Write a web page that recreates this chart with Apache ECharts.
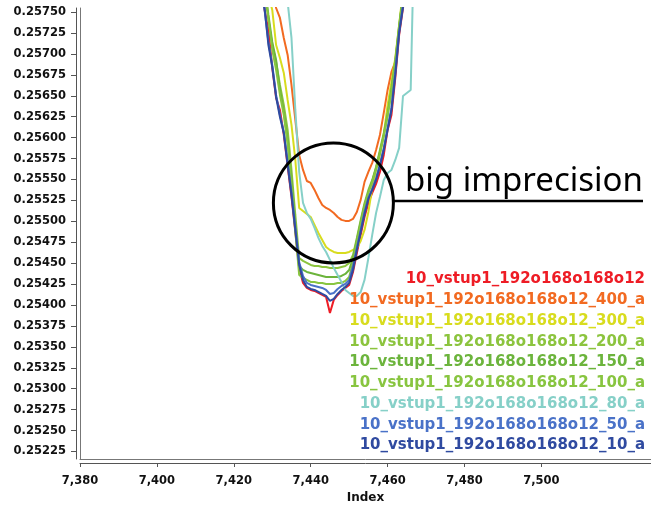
<!DOCTYPE html>
<html>
<head>
<meta charset="utf-8">
<script src="https://cdn.jsdelivr.net/npm/echarts@6/dist/echarts.min.js"></script>
<style>
html,body{margin:0;padding:0;background:#fff;}
#chart{width:651px;height:509px;}
</style>
</head>
<body>
<div id="chart"></div>
<script>
// ---- data ----
const index = [7427,7428,7429,7430,7431,7432,7433,7434,7435,7436,7437,7438,7439,7440,7441,7442,7443,7444,7445,7446,7447,7448,7449,7450,7451,7452,7453,7454,7455,7456,7457,7458,7459,7460,7461,7462,7463,7464,7465,7466,7467];

const seriesNames = [
  '10_vstup1_192o168o168o12',
  '10_vstup1_192o168o168o12_400_a',
  '10_vstup1_192o168o168o12_300_a',
  '10_vstup1_192o168o168o12_200_a',
  '10_vstup1_192o168o168o12_150_a',
  '10_vstup1_192o168o168o12_100_a',
  '10_vstup1_192o168o168o12_80_a',
  '10_vstup1_192o168o168o12_50_a',
  '10_vstup1_192o168o168o12_10_a'
];

const vBase = [0.257944,0.257526,0.257287,0.256833,0.256474,0.256331,0.256032,0.255662,0.255291,0.254873,0.254443,0.254264,0.254204,0.254180,0.254168,0.254144,0.254120,0.254097,0.253905,0.254061,0.254120,0.254168,0.254204,0.254240,0.254395,0.254622,0.254838,0.255052,0.255220,0.255339,0.255447,0.255590,0.255793,0.256092,0.256271,0.256713,0.257227,0.257549,0.257884,0.258242,0.258601];
const v400 = [0.258720,0.258481,0.258183,0.257860,0.257549,0.257430,0.257191,0.256988,0.256629,0.256211,0.255793,0.255614,0.255482,0.255459,0.255375,0.255279,0.255196,0.255160,0.255136,0.255100,0.255052,0.255017,0.255005,0.255005,0.255029,0.255112,0.255256,0.255471,0.255590,0.255698,0.255853,0.256032,0.256295,0.256570,0.256785,0.256904,0.257287,0.257705,0.258063,0.258362,0.258720];
const v300 = [0.258123,0.257908,0.257705,0.257526,0.257107,0.256952,0.256773,0.256450,0.256152,0.255733,0.255160,0.255124,0.255088,0.255052,0.254957,0.254861,0.254778,0.254694,0.254658,0.254634,0.254622,0.254622,0.254622,0.254634,0.254658,0.254682,0.254766,0.254897,0.255112,0.255399,0.255614,0.255793,0.256032,0.256391,0.256665,0.256952,0.257346,0.257764,0.258123,0.258481,0.258840];
const v200 = [0.258063,0.257764,0.257406,0.257107,0.256904,0.256629,0.256391,0.256092,0.255614,0.255076,0.254562,0.254527,0.254503,0.254479,0.254467,0.254467,0.254455,0.254455,0.254443,0.254443,0.254443,0.254455,0.254467,0.254503,0.254598,0.254802,0.255017,0.255220,0.255375,0.255494,0.255650,0.255853,0.256056,0.256295,0.256594,0.256928,0.257346,0.257705,0.258063,0.258422,0.258780];
const v150 = [0.258123,0.257824,0.257466,0.257143,0.256928,0.256570,0.256307,0.255972,0.255494,0.254957,0.254467,0.254419,0.254395,0.254383,0.254371,0.254359,0.254347,0.254335,0.254335,0.254335,0.254335,0.254347,0.254371,0.254419,0.254562,0.254778,0.254993,0.255196,0.255351,0.255482,0.255638,0.255829,0.256032,0.256271,0.256570,0.256904,0.257322,0.257705,0.258063,0.258422,0.258780];
const v100 = [0.258099,0.257788,0.257430,0.257048,0.256809,0.256510,0.256271,0.255913,0.255435,0.254873,0.254359,0.254324,0.254300,0.254276,0.254276,0.254264,0.254264,0.254252,0.254252,0.254252,0.254264,0.254264,0.254288,0.254335,0.254515,0.254754,0.254969,0.255184,0.255339,0.255471,0.255626,0.255817,0.256020,0.256259,0.256546,0.256880,0.257299,0.257705,0.258063,0.258422,0.258780];
const v80 = [0.259437,0.259198,0.258959,0.258720,0.258481,0.258242,0.257944,0.257621,0.257191,0.256331,0.255590,0.255220,0.255100,0.255029,0.254921,0.254802,0.254706,0.254634,0.254539,0.254443,0.254359,0.254276,0.254180,0.254144,0.254109,0.254109,0.254156,0.254300,0.254562,0.254838,0.255100,0.255291,0.255494,0.255578,0.255614,0.255733,0.255877,0.256498,0.256534,0.256570,0.258601];
const v50 = [0.257824,0.257526,0.257143,0.256868,0.256510,0.256271,0.256068,0.255709,0.255351,0.254921,0.254515,0.254347,0.254264,0.254240,0.254228,0.254216,0.254204,0.254180,0.254132,0.254144,0.254192,0.254228,0.254252,0.254300,0.254467,0.254682,0.254897,0.255112,0.255279,0.255387,0.255518,0.255686,0.255877,0.256116,0.256355,0.256785,0.257263,0.257585,0.257884,0.258242,0.258601];
const v10 = [0.257764,0.257549,0.257107,0.256845,0.256486,0.256247,0.256056,0.255674,0.255315,0.254897,0.254479,0.254300,0.254216,0.254192,0.254180,0.254156,0.254132,0.254109,0.254049,0.254073,0.254132,0.254180,0.254216,0.254264,0.254419,0.254658,0.254873,0.255088,0.255267,0.255375,0.255494,0.255662,0.255853,0.256092,0.256331,0.256749,0.257251,0.257561,0.257884,0.258242,0.258601];

const xTicks = [7380,7400,7420,7440,7460,7480,7500];
const yTicks = [0.25225,0.25250,0.25275,0.25300,0.25325,0.25350,0.25375,0.25400,0.25425,0.25450,0.25475,0.25500,0.25525,0.25550,0.25575,0.25600,0.25625,0.25650,0.25675,0.25700,0.25725,0.25750];

const annotationText = 'big imprecision';
const annotationCenter = [7445.9, 0.25522];

// ---- styles ----
const colors = ['#ee1c25','#f26a21','#d8dc1e','#8cc43e','#6cb43c','#88c540','#86d0c8','#4a72c8','#2f4aa0'];
const allValues = [vBase, v400, v300, v200, v150, v100, v80, v50, v10];

const chart = echarts.init(document.getElementById('chart'), null, {renderer: 'canvas'});

const xMin = 7380, xMax = 7528.5, yMin = 0.25216, yMax = 0.257549;
const labelFont = {fontFamily: 'DejaVu Sans', fontWeight: 'bold', fontSize: 11.5, color: '#111'};

const option = {
  animation: false,
  backgroundColor: '#fff',
  grid: {left: 80, right: 0, top: 8, bottom: 50, containLabel: false},
  xAxis: [{
    type: 'value', min: xMin, max: xMax,
    offset: 4,
    axisLine: {show: true, lineStyle: {color: '#555', width: 1}},
    axisTick: {show: true, length: 4, lineStyle: {color: '#555'}, customValues: xTicks},
    axisLabel: Object.assign({margin: 12, customValues: xTicks,
      formatter: v => Number(v).toLocaleString('en-US')}, labelFont),
    splitLine: {show: false},
    name: 'Index', nameLocation: 'middle', nameGap: 29,
    nameTextStyle: {fontFamily: 'DejaVu Sans', fontWeight: 'bold', fontSize: 12, color: '#111'}
  }, {
    type: 'value', min: xMin, max: xMax, position: 'bottom', offset: 0,
    axisLine: {show: true, lineStyle: {color: '#777', width: 1}},
    axisTick: {show: false}, axisLabel: {show: false}, splitLine: {show: false}
  }],
  yAxis: [{
    type: 'value', min: yMin, max: yMax,
    offset: 4,
    axisLine: {show: true, lineStyle: {color: '#555', width: 1}},
    axisTick: {show: true, length: 5, lineStyle: {color: '#555'}, customValues: yTicks},
    axisLabel: Object.assign({margin: 10, customValues: yTicks,
      formatter: v => Number(v).toFixed(5)}, labelFont),
    splitLine: {show: false}
  }, {
    type: 'value', min: yMin, max: yMax, position: 'left', offset: 0,
    axisLine: {show: true, lineStyle: {color: '#777', width: 1}},
    axisTick: {show: false}, axisLabel: {show: false}, splitLine: {show: false}
  }],
  legend: {
    orient: 'vertical', right: 1, top: 272, padding: 0,
    align: 'right', icon: 'rect', itemWidth: 0, itemHeight: 15, itemGap: 5.75,
    selectedMode: false,
    textStyle: {fontFamily: 'DejaVu Sans', fontWeight: 'bold', fontSize: 15, lineHeight: 15},
    data: seriesNames.map((n, i) => ({name: n, textStyle: {color: colors[i]}}))
  },
  series: seriesNames.map((n, i) => ({
    name: n, type: 'line', xAxisIndex: 0, yAxisIndex: 0,
    showSymbol: false, symbol: 'none', clip: true,
    lineStyle: {width: 2, color: colors[i]},
    itemStyle: {color: colors[i]},
    data: index.map((x, k) => [x, allValues[i][k]])
  }))
};
chart.setOption(option);

const c = chart.convertToPixel({gridIndex: 0}, annotationCenter);
const r = 60;
chart.setOption({
  graphic: [
    {type: 'circle', shape: {cx: c[0], cy: c[1], r: r}, style: {fill: 'none', stroke: '#000', lineWidth: 3}, z: 100},
    {type: 'line', shape: {x1: c[0] + r, y1: c[1] - 2, x2: 643, y2: c[1] - 2}, style: {stroke: '#000', lineWidth: 2.5}, z: 100},
    {type: 'text', x: 405, y: c[1] - 5, style: {text: annotationText, fontFamily: 'Noto Sans', fontSize: 33, fill: '#000', verticalAlign: 'bottom'}, z: 100}
  ]
});
</script>
</body>
</html>
